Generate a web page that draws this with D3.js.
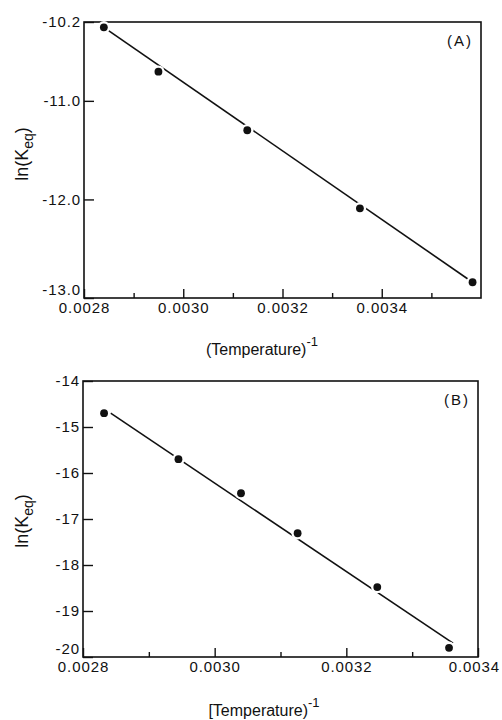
<!DOCTYPE html>
<html><head><meta charset="utf-8">
<script src="https://cdn.jsdelivr.net/npm/d3@7"></script>
<style>
html,body{margin:0;padding:0;background:#fff;}
text{font-family:"Liberation Sans",Arial,sans-serif;fill:#111;}
</style></head>
<body>
<svg id="c" width="502" height="720"></svg>
<script>
// Panel A data
const xA = [0.00284, 0.00295, 0.003129, 0.003356, 0.003583];
const yA = [-10.254, -10.704, -11.298, -12.09, -12.84];
const fitAx = [0.00284, 0.003583];
const fitAy = [-10.254, -12.84];
const xTicksA = [0.0028, 0.0030, 0.0032, 0.0034];
const xMinorA = [0.0029, 0.0031, 0.0033, 0.0035];
const yTicksA = [-10.2, -11.0, -12.0, -13.0];
const yTickLabelsA = ["-10.2", "-11.0", "-12.0", "-13.0"];

// Panel B data
const xB = [0.002832, 0.002945, 0.00304, 0.003126, 0.003247, 0.003356];
const yB = [-14.70, -15.70, -16.44, -17.31, -18.48, -19.80];
const fitBx = [0.002842, 0.003362];
const fitBy = [-14.70, -19.70];
const xTicksB = [0.0028, 0.0030, 0.0032, 0.0034];
const xMinorB = [0.0029, 0.0031, 0.0033];
const yTicksB = [-14, -15, -16, -17, -18, -19, -20];
const yTickLabelsB = ["-14", "-15", "-16", "-17", "-18", "-19", "-20"];

const svg = d3.select("#c");

function panel(cfg) {
  const x = d3.scaleLinear().domain(cfg.xDomain).range([cfg.left, cfg.right]);
  const y = d3.scaleLinear().domain(cfg.yDomain).range([cfg.top, cfg.bottom]);
  const g = svg.append("g");
  // frame
  g.append("rect").attr("x", cfg.left).attr("y", cfg.top)
    .attr("width", cfg.right - cfg.left).attr("height", cfg.bottom - cfg.top)
    .attr("fill", "none").attr("stroke", "#111").attr("stroke-width", 1.6);
  // x axis (inward ticks)
  const xAx = d3.axisBottom(x).tickValues(cfg.xTicks).tickSizeInner(-9).tickSizeOuter(0)
    .tickFormat(d3.format(".4f")).tickPadding(6);
  const gx = g.append("g").attr("transform", `translate(0,${cfg.bottom})`).call(xAx);
  gx.select(".domain").remove();
  gx.selectAll("line").attr("stroke", "#111").attr("stroke-width", 1.4);
  const xt = gx.selectAll("text").attr("font-size", 15).attr("letter-spacing", 0.9)
    .attr("dy", "0.6em").attr("fill", "#111");
  // keep last label inside the page
  xt.each(function() {
    const bb = this.getBBox();
    const tr = this.parentNode.getAttribute("transform");
    const tx = +tr.match(/translate\(([-\d.]+)/)[1];
    if (tx + bb.x + bb.width > 500) d3.select(this).attr("x", 500 - tx - bb.width - bb.x);
  });
  const xMin = d3.axisBottom(x).tickValues(cfg.xMinor).tickSizeInner(-5).tickSizeOuter(0).tickFormat("");
  const gm = g.append("g").attr("transform", `translate(0,${cfg.bottom})`).call(xMin);
  gm.select(".domain").remove();
  gm.selectAll("line").attr("stroke", "#111").attr("stroke-width", 1.4);
  // y axis
  const yAx = d3.axisLeft(y).tickValues(cfg.yTicks).tickSizeInner(-10).tickSizeOuter(0)
    .tickFormat((d, i) => cfg.yLabels[i]).tickPadding(2);
  const gy = g.append("g").attr("transform", `translate(${cfg.left},0)`).call(yAx);
  gy.select(".domain").remove();
  gy.selectAll("line").attr("stroke", "#111").attr("stroke-width", 1.4);
  gy.selectAll("text").attr("font-size", 15).attr("letter-spacing", 0.9).attr("fill", "#111")
    .attr("x", -3)
    .attr("y", (d, i, n) => i === n.length - 1 ? -8 : 0);
  // fit line
  g.append("path").datum(d3.zip(cfg.fx, cfg.fy))
    .attr("d", d3.line().x(d => x(d[0])).y(d => y(d[1])))
    .attr("fill", "none").attr("stroke", "#111").attr("stroke-width", 1.6);
  // points: white halo then black dot
  const pts = d3.zip(cfg.px, cfg.py);
  g.selectAll("circle.h").data(pts).join("circle").attr("class", "h")
    .attr("cx", d => x(d[0])).attr("cy", d => y(d[1])).attr("r", 6.2).attr("fill", "#fff");
  g.selectAll("circle.p").data(pts).join("circle").attr("class", "p")
    .attr("cx", d => x(d[0])).attr("cy", d => y(d[1])).attr("r", 3.9).attr("fill", "#111");
  // panel tag
  g.append("text").attr("x", cfg.right - 8).attr("y", cfg.top + 24).attr("text-anchor", "end")
    .attr("font-size", 15).attr("letter-spacing", 2).text(cfg.tag);
  // y label
  const yl = g.append("text").attr("transform", `translate(${cfg.ylx},${cfg.yly}) rotate(-90)`)
    .attr("text-anchor", "middle").attr("font-size", 18);
  yl.append("tspan").text("ln(K");
  yl.append("tspan").attr("font-size", 14).attr("dy", 5).text("eq");
  yl.append("tspan").attr("dy", -5).text(")");
  // x label
  const xl = g.append("text").attr("x", cfg.xlx).attr("y", cfg.xly).attr("text-anchor", "middle")
    .attr("font-size", 16);
  xl.append("tspan").text(cfg.xlOpen + "Temperature)");
  xl.append("tspan").attr("font-size", 13).attr("dy", -9).text("-1");
}

panel({
  xDomain: [0.0028, 0.0036], yDomain: [-10.2, -13.0],
  left: 84, right: 481, top: 22, bottom: 298,
  xTicks: xTicksA, xMinor: xMinorA, yTicks: yTicksA, yLabels: yTickLabelsA,
  px: xA, py: yA, fx: fitAx, fy: fitAy, tag: "(A)",
  ylx: 28, yly: 154, xlx: 262, xly: 355, xlOpen: "("
});
panel({
  xDomain: [0.0028, 0.0034], yDomain: [-14, -20],
  left: 83, right: 478, top: 381, bottom: 657,
  xTicks: xTicksB, xMinor: xMinorB, yTicks: yTicksB, yLabels: yTickLabelsB,
  px: xB, py: yB, fx: fitBx, fy: fitBy, tag: "(B)",
  ylx: 28, yly: 521, xlx: 264, xly: 716, xlOpen: "["
});
</script>
</body></html>
